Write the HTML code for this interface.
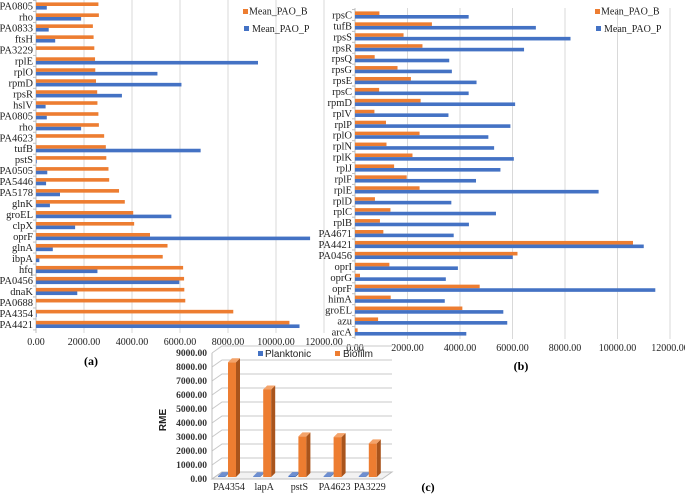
<!DOCTYPE html>
<html><head><meta charset="utf-8">
<style>
html,body{margin:0;padding:0;background:#fff;width:685px;height:495px;overflow:hidden}
svg{display:block}
.s{font-family:"Liberation Serif",serif}
.a{font-family:"Liberation Sans",sans-serif}
</style></head>
<body>
<svg id="chart" width="685" height="495" viewBox="0 0 685 495">
<g id="ga"></g>
<g id="gb"></g>
<g id="gc"></g>
</svg>
<script>
// Chart (a) data
const catsA = ["PA0805","rho","PA0833","ftsH","PA3229","rplE","rplO","rpmD","rpsR","hslV","PA0805","rho","PA4623","tufB","pstS","PA0505","PA5446","PA5178","glnK","groEL","clpX","oprF","glnA","ibpA","hfq","PA0456","dnaK","PA0688","PA4354","PA4421"];
const bioA = [2600,2620,2370,2400,2430,2460,2470,2500,2550,2560,2600,2620,2840,2910,2930,3020,3050,3460,3700,4050,4090,4750,5480,5280,6130,6170,6180,6220,8220,10560];
const plankA = [450,1880,530,800,0,9250,5060,6060,3580,400,450,1880,0,6860,30,470,420,1000,580,5640,1630,11420,700,140,2560,5970,1720,0,30,10980];
// Chart (b) data
const catsB = ["rpsC","tufB","rpsS","rpsR","rpsQ","rpsG","rpsE","rpsC","rpmD","rplV","rplP","rplO","rplN","rplK","rplJ","rplF","rplE","rplD","rplC","rplB","PA4671","PA4421","PA0456","oprI","oprG","oprF","himA","groEL","azu","arcA"];
const bioB = [930,2930,1850,2570,750,1620,2130,920,2500,740,1180,2460,1200,2190,1490,1970,2460,760,1350,950,1080,10590,6190,1310,190,4750,1360,4090,880,100];
const plankB = [4330,6890,8210,6440,3590,3690,4630,4330,6100,3560,5920,5080,5300,6050,5540,4610,9280,3670,5370,4340,3760,11000,6010,3920,3460,11440,3420,5650,5800,4240];
const ticksAB = [0,2000,4000,6000,8000,10000,12000];
// Chart (c) data
const catsC = ["PA4354","lapA","pstS","PA4623","PA3229"];
const plankC = [60,50,70,50,50];
const bioC = [8200,6250,2900,2850,2400];
const ticksC = [0,1000,2000,3000,4000,5000,6000,7000,8000,9000];

const NS="http://www.w3.org/2000/svg";
const OR="#ED7D31", BL="#4472C4";
function mk(parent,tag,attrs,text){
  const e=document.createElementNS(NS,tag);
  for(const k in attrs) e.setAttribute(k,attrs[k]);
  if(text!==undefined) e.textContent=text;
  parent.appendChild(e); return e;
}

function hbar(g, cats, bio, plank, x0, x12, y0, step, yTop, yBot, legX, legY, label, labX, labY){
  const xs=v=>x0+v*(x12-x0)/12000;
  const cy=i=>y0+i*step;
  for(const t of ticksAB){
    if(t>0){
      const gl=mk(g,'line',{x1:xs(t),x2:xs(t),y1:yTop,y2:yBot,stroke:'#d9d9d9','stroke-width':1});
      
      
    }
    const tl=mk(g,'text',{x:xs(t),y:yBot+12,'text-anchor':'middle','font-size':10,class:'s',fill:'#222'},t.toFixed(2));
    
    
  }
  const ax=mk(g,'line',{x1:x0,x2:x0,y1:yTop,y2:yBot,stroke:'#bfbfbf','stroke-width':1});
  
  
  for(let i=0;i<=cats.length;i++){
    const yy=cy(i)-step/2;
    mk(g,'line',{x1:x0-3,x2:x0,y1:yy,y2:yy,stroke:'#bfbfbf','stroke-width':1});
  }
  cats.forEach((c,i)=>{
    const l=mk(g,'text',{x:x0-3,y:cy(i)+3.5,'text-anchor':'end','font-size':10.5,class:'s',fill:'#222'},c);
    
    
    const b=mk(g,'rect',{x:x0,y:cy(i)-3.6,width:Math.max(0,xs(bio[i])-x0),height:3.6,fill:OR});
    
    
    const p=mk(g,'rect',{x:x0,y:cy(i),width:Math.max(0,xs(plank[i])-x0),height:3.6,fill:BL});
    
    
  });
  const l1=mk(g,'rect',{x:legX,y:legY-4,width:5,height:5,fill:OR});
  
  
  const t1=mk(g,'text',{x:legX+6,y:legY+1.5,'font-size':10,class:'s',fill:'#222'},'Mean_PAO_B');
  
  
  const l2=mk(g,'rect',{x:legX+1,y:legY+13,width:5,height:5,fill:BL});
  
  
  const t2=mk(g,'text',{x:legX+9,y:legY+19,'font-size':10,class:'s',fill:'#222'},'Mean_PAO_P');
  
  
  const pl=mk(g,'text',{x:labX,y:labY,'font-size':12,'font-weight':'bold',class:'s',fill:'#000','text-anchor':'middle'},label);
  
  
}

hbar(document.getElementById('ga'),catsA,bioA,plankA,36,324,6,10.98,0,333,243,13,'(a)',91,365);
hbar(document.getElementById('gb'),catsB,bioB,plankB,355,670,15,10.93,8,339,595,13,'(b)',521,370);

// Chart (c)
(function(){
  const g=document.getElementById('gc');
  const base=479, sc=14/1000, dx=10, dy=7, xl=212, xr=382;
  const yv=v=>base-v*sc;
  ticksC.forEach(t=>{
    const y=yv(t);
    const gl=mk(g,'polyline',{points:`${xl},${y} ${xl+dx},${y-dy} ${xr+dx},${y-dy}`,fill:'none',stroke:'#c8c8c8','stroke-width':1});
    
    
    const tl=mk(g,'text',{x:xl-5,y:y+3,'text-anchor':'end','font-size':9.5,'font-weight':'bold',class:'s',fill:'#333'},t.toFixed(2));
    
    
  });
  const fl=mk(g,'polygon',{points:`${xl},${base} ${xl+dx},${base-dy} ${xr+dx},${base-dy} ${xr},${base}`,fill:'#f2f2f2',stroke:'#bfbfbf','stroke-width':1});
  
  
  mk(g,'line',{x1:xl,x2:xl,y1:yv(9000),y2:base,stroke:'#bfbfbf','stroke-width':1});
  const b0=477, w=8, d=4;
  const cx=i=>232+i*35.2;
  function bar3(x,wid,v,front,side,top,name){
    const yt=b0-v*sc;
    const f=mk(g,'rect',{x:x,y:yt,width:wid,height:b0-yt,fill:front});
    
    
    mk(g,'polygon',{points:`${x+wid},${yt} ${x+wid+d},${yt-d} ${x+wid+d},${b0-d} ${x+wid},${b0}`,fill:side});
    mk(g,'polygon',{points:`${x},${yt} ${x+d},${yt-d} ${x+wid+d},${yt-d} ${x+wid},${yt}`,fill:top});
  }
  catsC.forEach((c,i)=>{
    bar3(cx(i)-14,7,plankC[i],BL,'#2f528f','#6f8fd0','bar-planktonic');
    bar3(cx(i)-4,w,bioC[i],OR,'#a9541c','#f4a36a','bar-biofilm');
    const l=mk(g,'text',{x:cx(i)-3,y:490,'text-anchor':'middle','font-size':10,class:'s',fill:'#222'},c);
    
    
  });
  const yt=mk(g,'text',{x:0,y:0,transform:'translate(166,420) rotate(-90)','text-anchor':'middle','font-size':10,'font-weight':'bold',class:'a',fill:'#222'},'RME');
  
  
  const s1=mk(g,'rect',{x:258,y:351,width:5,height:5,fill:BL});
  
  
  const e1=mk(g,'text',{x:265,y:357,'font-size':10,class:'a',fill:'#222'},'Planktonic');
  
  
  const s2=mk(g,'rect',{x:335,y:351,width:5,height:5,fill:OR});
  
  
  const e2=mk(g,'text',{x:343,y:357,'font-size':10,class:'a',fill:'#222'},'Biofilm');
  
  
  const pl=mk(g,'text',{x:428,y:491,'font-size':12,'font-weight':'bold',class:'s',fill:'#000','text-anchor':'middle'},'(c)');
  
  
})();
</script>
</body></html>
